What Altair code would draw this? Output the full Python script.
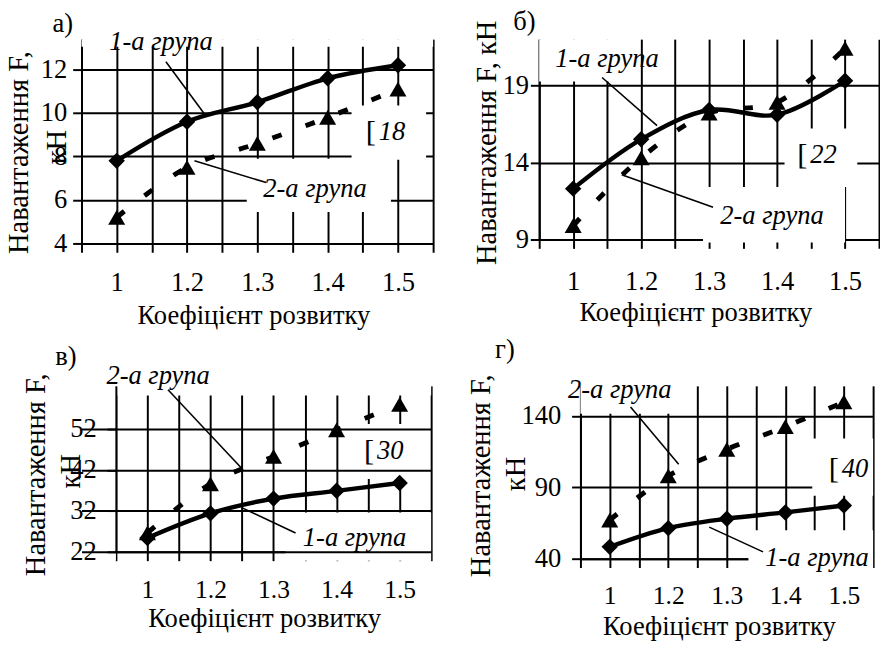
import json
import altair as alt
import pandas as pd

FONT = "Liberation Serif"

# ---------------- data ----------------
categories = ["1", "1.2", "1.3", "1.4", "1.5"]
positions = [0, 1, 2, 3, 4]
groups = ["1-а група", "2-а група"]

a_group1 = [7.8, 9.6, 10.5, 11.6, 12.2]
a_group2 = [5.2, 7.5, 8.6, 9.8, 11.1]
b_group1 = [12.3, 15.5, 17.4, 17.1, 19.3]
b_group2 = [9.9, 14.3, 17.2, 17.9, 21.4]
c_group1 = [25.4, 31.4, 35.0, 36.9, 38.8]
c_group2 = [26.6, 38.6, 45.3, 51.8, 58.0]
d_group1 = [48.3, 61.4, 68.0, 72.4, 77.2]
d_group2 = [67.0, 98.0, 116.6, 132.4, 149.7]

a_yticks = [4, 6, 8, 10, 12]
b_yticks = [9, 14, 19]
c_yticks = [22, 32, 42, 52]
d_yticks = [40, 90, 140]

a_ydomain = [4, 13.4]
b_ydomain = [9, 22]
c_ydomain = [22, 62.55]
d_ydomain = [40, 161]

x_title = "Коефіцієнт розвитку"
y_title_full = "Навантаження F, кН"
y_title_first = "Навантаження F,"
y_title_unit = "кН"
letters = ["а)", "б)", "в)", "г)"]

# annotations (data units: x = category position, y = value)
a_notes = [("1-а група", 0.63, 13.27), ("2-а група", 2.82, 6.49)]
a_leaders = [(0.70, 12.36, 1.246, 9.97), (2.126, 6.80, 1.106, 7.80)]
a_key = ("18", 3.70, 9.1)
a_masks = [(-0.5, 4.5, 13.05, 13.4), (1.85, 3.9, 5.45, 7.9), (3.34, 4.4, 7.85, 10.35)]
a_letter = (-0.765, 14.08)
a_unit = (-0.849, 8.43)

b_notes = [("1-а група", 0.497, 20.72), ("2-а група", 2.925, 10.53)]
b_leaders = [(0.425, 19.51, 1.234, 16.39), (2.058, 11.1, 0.714, 13.2)]
b_key = ("22", 3.46, 14.48)
b_masks = [(-0.5, 0.757, 19.25, 22), (3.11, 4.18, 12.4, 16.2), (1.91, 4.0, 8.8, 12.4)]
b_letter = (-0.717, 23.08)

c_notes = [("2-а група", 0.17, 64.9), ("1-а група", 3.285, 25.4)]
c_leaders = [(0.326, 61.6, 1.494, 42.4), (2.35, 26.6, 1.494, 32.8)]
c_key = ("30", 3.61, 46.5)
c_masks = [(-1.045, -0.5, 19.8, 62.55), (-0.5, 4.5, 60.2, 62.55),
           (3.24, 4.42, 39.8, 53.2), (2.19, 4.5, 19.8, 31.6)]
c_letter = (-1.294, 69.5)
c_unit = (-1.217, 41.7)

d_notes = [("2-а група", 0.171, 157.9), ("1-а група", 3.54, 40.7)]
d_leaders = [(0.356, 146.2, 1.178, 106.2), (2.62, 44.8, 1.70, 62.1)]
d_key = ("40", 3.93, 102.5)
d_masks = [(-0.5, 1.25, 141.4, 161), (3.46, 4.5, 84.1, 124.1), (2.37, 4.5, 25, 60)]
d_letter = (-1.79, 186.2)
d_unit = (-1.59, 99.3)

x_grid_values = [i / 2 - 0.5 for i in range(11)]
label_expr = "datum.value % 1 == 0 ? " + json.dumps(categories) + "[datum.value] : ''"


def panel(g1, g2, ydomain, yticks, width, height, ytitle, ytitle_x, ytitle_y,
          ylabel_pad, xlabel_size, xlabel_pad, xtitle_x, xtitle_y, notes, leaders,
          key, masks, letter_text, letter_pos, unit_pos=None, xmin=-0.5, y_offset=0):
    xs = alt.Scale(domain=[xmin, 4.5], nice=False, zero=False)
    ys = alt.Scale(domain=ydomain, nice=False, zero=False)
    x_axis = alt.Axis(
        values=x_grid_values, labelExpr=label_expr, grid=True, gridColor="black",
        gridWidth=2, gridOpacity=1, domainColor="black", domainWidth=2,
        tickColor="black", tickWidth=2, tickSize=9, labelFont=FONT,
        labelFontSize=xlabel_size, labelColor="black", labelPadding=xlabel_pad,
        labelFlush=False, labelOverlap=False, title=x_title, titleFont=FONT,
        titleFontSize=27, titleFontWeight="normal", titleColor="black",
        titleX=xtitle_x, titleY=xtitle_y, titleAlign="center", titleBaseline="top")
    y_kwargs = dict(
        values=yticks, grid=True, gridColor="black", gridWidth=2, gridOpacity=1,
        domainColor="black", domainWidth=2, tickColor="black", tickWidth=2,
        tickSize=9, labelFont=FONT, labelFontSize=27, labelColor="black",
        labelPadding=ylabel_pad, labelOverlap=False, labelFlush=False,
        title=ytitle, titleFont=FONT, titleFontSize=29, titleFontWeight="normal",
        titleColor="black", titleX=ytitle_x, titleY=ytitle_y, titleAngle=270,
        titleAlign="center", titleBaseline="bottom")
    if y_offset:
        y_kwargs.update(offset=y_offset, zindex=1)
    y_axis = alt.Axis(**y_kwargs)

    pts = pd.DataFrame({"idx": positions * 2, "value": g1 + g2,
                        "group": [groups[0]] * 5 + [groups[1]] * 5})
    mask_df = pd.DataFrame(masks, columns=["x1", "x2", "y1", "y2"])
    lead_df = pd.DataFrame(leaders, columns=["x1", "y1", "x2", "y2"])
    note_df = pd.DataFrame(notes, columns=["label", "x", "y"])
    key_df = pd.DataFrame([key], columns=["label", "x", "y"])
    letter_df = pd.DataFrame([(letter_text, letter_pos[0], letter_pos[1])],
                             columns=["label", "x", "y"])

    X = lambda f: alt.X(f, scale=xs, axis=x_axis)
    Y = lambda f: alt.Y(f, scale=ys, axis=y_axis)

    layers = []
    layers.append(alt.Chart(mask_df).mark_rect(color="white", opacity=1).encode(
        x=X("x1:Q"), x2="x2:Q", y=Y("y1:Q"), y2="y2:Q"))
    base = alt.Chart(pts)
    layers.append(base.transform_filter(alt.datum.group == groups[1]).mark_line(
        color="black", strokeWidth=5, strokeDash=[10, 26], interpolate="catmull-rom"
    ).encode(x=X("idx:Q"), y=Y("value:Q")))
    layers.append(base.transform_filter(alt.datum.group == groups[0]).mark_line(
        color="black", strokeWidth=4.5, interpolate="catmull-rom"
    ).encode(x=X("idx:Q"), y=Y("value:Q")))
    layers.append(base.transform_filter(alt.datum.group == groups[0]).mark_point(
        shape="diamond", filled=True, size=280, color="black", opacity=1
    ).encode(x=X("idx:Q"), y=Y("value:Q")))
    layers.append(base.transform_filter(alt.datum.group == groups[1]).mark_point(
        shape="triangle-up", filled=True, size=300, color="black", opacity=1
    ).encode(x=X("idx:Q"), y=Y("value:Q")))
    layers.append(alt.Chart(lead_df).mark_rule(color="black", strokeWidth=1.6).encode(
        x=X("x1:Q"), y=Y("y1:Q"), x2="x2:Q", y2="y2:Q"))
    layers.append(alt.Chart(note_df).mark_text(
        font=FONT, fontSize=27, fontStyle="italic", color="black",
        align="center", baseline="middle").encode(x=X("x:Q"), y=Y("y:Q"), text="label:N"))
    layers.append(alt.Chart(key_df).mark_text(
        font=FONT, fontSize=31, color="black", align="right", baseline="middle",
        dx=-1, text="[").encode(x=X("x:Q"), y=Y("y:Q")))
    layers.append(alt.Chart(key_df).mark_text(
        font=FONT, fontSize=27, fontStyle="italic", color="black", align="left",
        baseline="middle", dx=2).encode(x=X("x:Q"), y=Y("y:Q"), text="label:N"))
    layers.append(alt.Chart(letter_df).mark_text(
        font=FONT, fontSize=27, color="black", align="center",
        baseline="middle").encode(x=X("x:Q"), y=Y("y:Q"), text="label:N"))
    if unit_pos is not None:
        unit_df = pd.DataFrame([(y_title_unit, unit_pos[0], unit_pos[1])],
                               columns=["label", "x", "y"])
        layers.append(alt.Chart(unit_df).mark_text(
            font=FONT, fontSize=29, color="black", align="center", baseline="middle",
            angle=270).encode(x=X("x:Q"), y=Y("y:Q"), text="label:N"))
    return alt.layer(*layers).properties(width=width, height=height)


pa = panel(a_group1, a_group2, a_ydomain, a_yticks, 358, 208, y_title_first,
           -49, 115, 6, 27, 18, 175, 61, a_notes, a_leaders, a_key, a_masks,
           letters[0], a_letter, unit_pos=a_unit)
pb = panel(b_group1, b_group2, b_ydomain, b_yticks, 346, 204, y_title_full,
           -38, 105, 2, 27, 21, 159, 61, b_notes, b_leaders, b_key, b_masks,
           letters[1], b_letter)
pc = panel(c_group1, c_group2, c_ydomain, c_yticks, 356, 169, y_title_first,
           -67, 90, 11, 26, 17, 186, 55, c_notes, c_leaders, c_key, c_masks,
           letters[2], c_letter, unit_pos=c_unit, xmin=-1.045, y_offset=-35)
pd_ = panel(d_group1, d_group2, d_ydomain, d_yticks, 298, 176, y_title_first,
            -87, 91, 11, 26, 16, 141, 56, d_notes, d_leaders, d_key, d_masks,
            letters[3], d_letter, unit_pos=d_unit)

row1 = alt.hconcat(pa, pb, spacing=39)
row2 = alt.hconcat(pc, pd_, spacing=35)
chart = alt.vconcat(row1, row2, spacing=7).properties(
    padding={"left": 4, "top": 3, "right": 0, "bottom": 0},
    background="white",
).configure_view(stroke=None)

chart.save("out.html", embed_options={"renderer": "svg", "actions": False})
